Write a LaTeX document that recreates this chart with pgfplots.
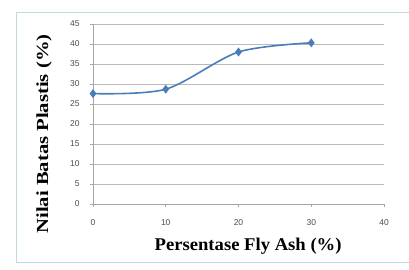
\documentclass[border=0pt]{standalone}
\usepackage{graphicx}
\usepackage{pgfplots}
\pgfplotsset{compat=1.18}
\usepackage{fontspec}
\setmainfont{Liberation Serif}
\newfontfamily\tickfont{Liberation Sans}
\begin{document}
\begin{tikzpicture}[x=1bp,y=1bp]
\useasboundingbox (0,0) rectangle (409,270);
\fill[white] (0,0) rectangle (409,270);
\draw[color=cyan!30!gray!40, line width=0.8bp] (409,258) -- (16,258) -- (16,8) -- (409,8);
\begin{axis}[
  at={(93bp,66bp)}, anchor=origin,
  scale only axis, width=291bp, height=180bp,
  xmin=0, xmax=40, ymin=0, ymax=45,
  xtick={0,10,20,30,40}, ytick={0,5,...,45},
  xticklabels={0,10,20,30,40},
  axis x line*=bottom, axis y line*=left,
  axis line style={gray!70, line width=0.6bp, -},
  tick style={gray!70, line width=0.6bp},
  tick align=outside, major tick length=3bp,
  ymajorgrids, grid style={gray!55, line width=0.7bp},
  /pgf/number format/assume math mode=true,
  ticklabel style={font=\tickfont\fontsize{8.5}{9}\selectfont, text=black!70},
  xticklabel style={yshift=-9bp},
  yticklabel style={xshift=-7bp},
  xlabel={\scalebox{1.04}[1]{\bfseries Persentase Fly Ash (\%)}},
  ylabel={\scalebox{1.22}[1]{\bfseries Nilai Batas Plastis (\%)}},
  xlabel style={font=\fontsize{18}{19}\selectfont, at={(0.533,0)}, anchor=center, yshift=-42bp},
  ylabel style={font=\fontsize{17}{18}\selectfont, at={(0,0.389)}, anchor=center, yshift=49bp},
  clip=false,
]
\addplot[color={rgb,255:red,74;green,126;blue,187}, line width=1.6bp, smooth, tension=0.5,
  mark=diamond*, mark size=3.2bp, mark options={fill={rgb,255:red,74;green,126;blue,187}}]
  coordinates {(0,27.6) (10,28.7) (20,38.0) (30,40.3)};
\end{axis}
\end{tikzpicture}
\end{document}
